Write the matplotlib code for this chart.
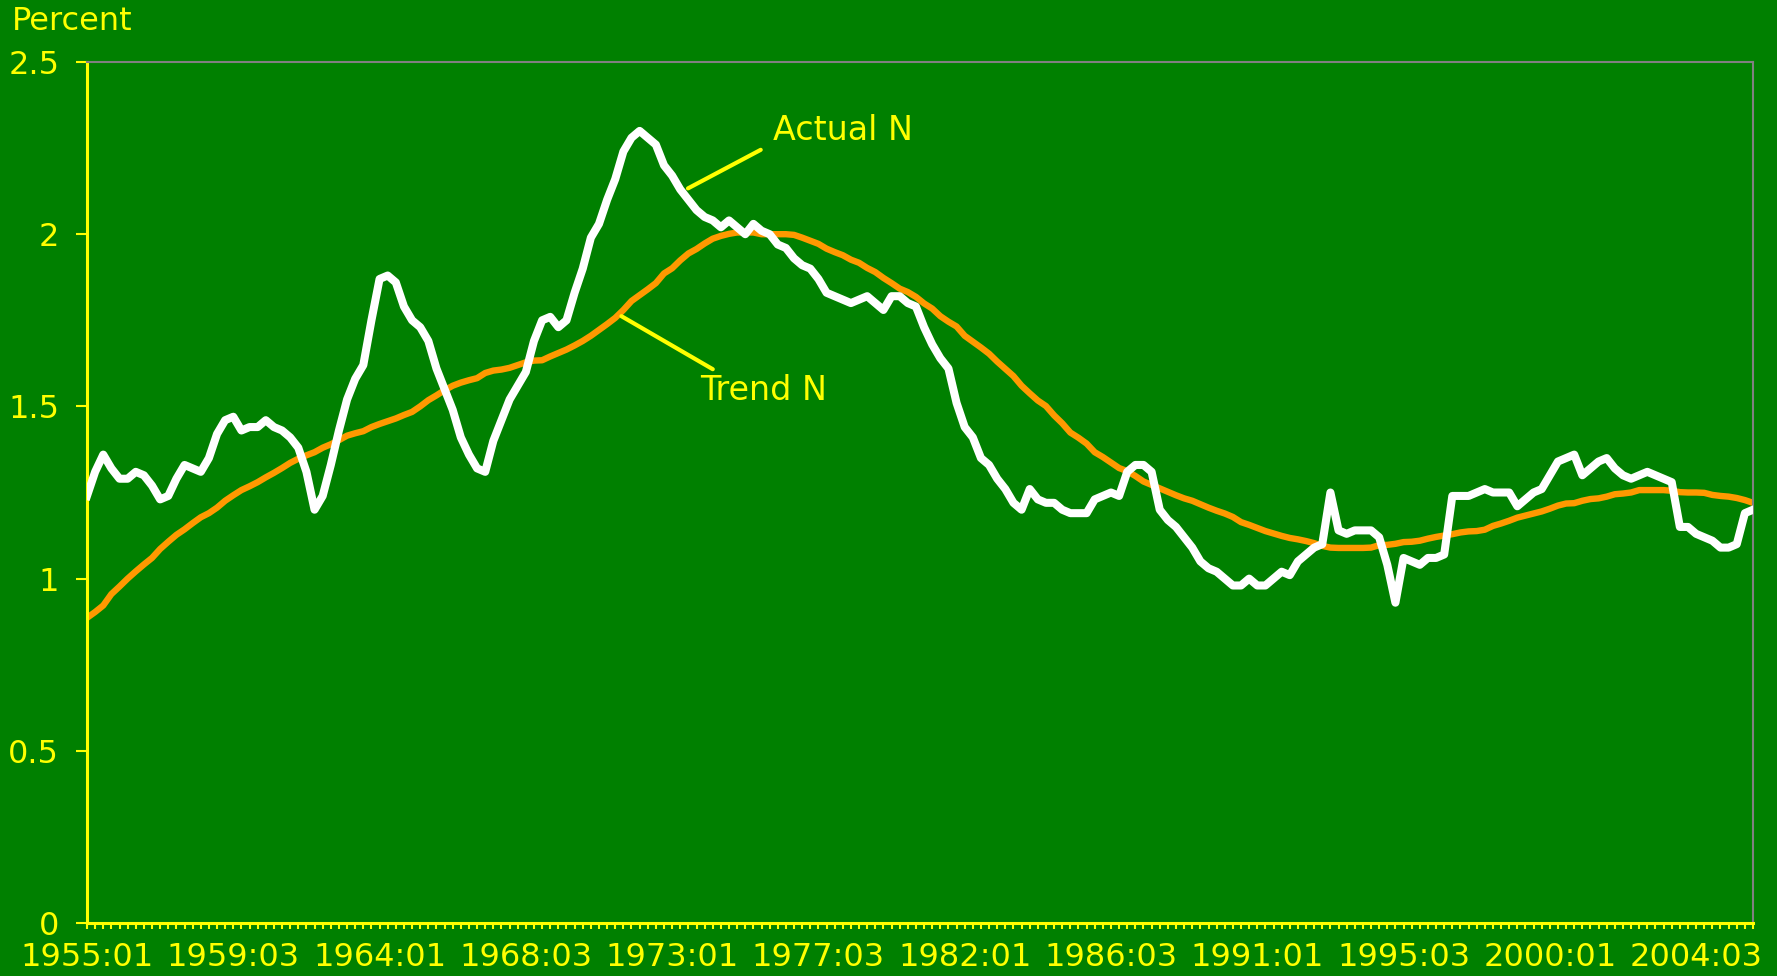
import matplotlib
matplotlib.use("Agg")
import matplotlib.pyplot as plt
import numpy as np

# quarterly series, 1955:01 .. 2006:02
actual_n = [
    1.24, 1.31, 1.36, 1.32, 1.29, 1.29, 1.31, 1.30, 1.27, 1.23,
    1.24, 1.29, 1.33, 1.32, 1.31, 1.35, 1.42, 1.46, 1.47, 1.43,
    1.44, 1.44, 1.46, 1.44, 1.43, 1.41, 1.38, 1.31, 1.20, 1.24,
    1.33, 1.43, 1.52, 1.58, 1.62, 1.75, 1.87, 1.88, 1.86, 1.79,
    1.75, 1.73, 1.69, 1.61, 1.55, 1.49, 1.41, 1.36, 1.32, 1.31,
    1.40, 1.46, 1.52, 1.56, 1.60, 1.69, 1.75, 1.76, 1.73, 1.75,
    1.83, 1.90, 1.99, 2.03, 2.10, 2.16, 2.24, 2.28, 2.30, 2.28,
    2.26, 2.20, 2.17, 2.13, 2.10, 2.07, 2.05, 2.04, 2.02, 2.04,
    2.02, 2.00, 2.03, 2.01, 2.00, 1.97, 1.96, 1.93, 1.91, 1.90,
    1.87, 1.83, 1.82, 1.81, 1.80, 1.81, 1.82, 1.80, 1.78, 1.82,
    1.82, 1.80, 1.79, 1.73, 1.68, 1.64, 1.61, 1.51, 1.44, 1.41,
    1.35, 1.33, 1.29, 1.26, 1.22, 1.20, 1.26, 1.23, 1.22, 1.22,
    1.20, 1.19, 1.19, 1.19, 1.23, 1.24, 1.25, 1.24, 1.31, 1.33,
    1.33, 1.31, 1.20, 1.17, 1.15, 1.12, 1.09, 1.05, 1.03, 1.02,
    1.00, 0.98, 0.98, 1.00, 0.98, 0.98, 1.00, 1.02, 1.01, 1.05,
    1.07, 1.09, 1.10, 1.25, 1.14, 1.13, 1.14, 1.14, 1.14, 1.12,
    1.04, 0.93, 1.06, 1.05, 1.04, 1.06, 1.06, 1.07, 1.24, 1.24,
    1.24, 1.25, 1.26, 1.25, 1.25, 1.25, 1.21, 1.23, 1.25, 1.26,
    1.30, 1.34, 1.35, 1.36, 1.30, 1.32, 1.34, 1.35, 1.32, 1.30,
    1.29, 1.30, 1.31, 1.30, 1.29, 1.28, 1.15, 1.15, 1.13, 1.12,
    1.11, 1.09, 1.09, 1.10, 1.19, 1.20,
]

trend_n = [
    0.886, 0.903, 0.922, 0.955, 0.977, 1.000, 1.021, 1.041, 1.060, 1.086,
    1.107, 1.127, 1.143, 1.161, 1.178, 1.190, 1.206, 1.226, 1.242, 1.257,
    1.268, 1.280, 1.294, 1.307, 1.321, 1.336, 1.348, 1.358, 1.367, 1.380,
    1.390, 1.402, 1.415, 1.422, 1.428, 1.440, 1.449, 1.457, 1.465, 1.475,
    1.484, 1.500, 1.518, 1.532, 1.547, 1.560, 1.569, 1.576, 1.582, 1.597,
    1.604, 1.607, 1.612, 1.620, 1.628, 1.633, 1.634, 1.645, 1.655, 1.665,
    1.677, 1.690, 1.705, 1.722, 1.739, 1.757, 1.780, 1.806, 1.823, 1.840,
    1.858, 1.886, 1.901, 1.924, 1.944, 1.957, 1.973, 1.987, 1.995, 2.001,
    2.005, 2.005, 2.005, 2.000, 2.000, 2.000, 2.000, 1.998, 1.990, 1.981,
    1.972, 1.958, 1.948, 1.939, 1.926, 1.917, 1.902, 1.890, 1.873, 1.858,
    1.842, 1.832, 1.818, 1.799, 1.784, 1.762, 1.746, 1.732, 1.705, 1.688,
    1.671, 1.653, 1.630, 1.609, 1.588, 1.560, 1.538, 1.517, 1.501, 1.474,
    1.451, 1.424, 1.409, 1.392, 1.367, 1.353, 1.337, 1.321, 1.312, 1.298,
    1.282, 1.272, 1.262, 1.252, 1.242, 1.233, 1.226, 1.216, 1.206, 1.197,
    1.189, 1.179, 1.164, 1.156, 1.147, 1.138, 1.131, 1.124, 1.118, 1.114,
    1.109, 1.103, 1.095, 1.090, 1.089, 1.089, 1.089, 1.089, 1.090, 1.097,
    1.098, 1.101, 1.106, 1.107, 1.110, 1.116, 1.121, 1.125, 1.129, 1.134,
    1.137, 1.138, 1.142, 1.153, 1.160, 1.168, 1.177, 1.183, 1.189, 1.195,
    1.203, 1.212, 1.218, 1.219, 1.226, 1.231, 1.233, 1.238, 1.245, 1.247,
    1.250, 1.257, 1.257, 1.257, 1.257, 1.255, 1.251, 1.250, 1.250, 1.249,
    1.243, 1.240, 1.238, 1.234, 1.228, 1.220,
]

tick_labels = ["1955:01", "1959:03", "1964:01", "1968:03", "1973:01", "1977:03",
               "1982:01", "1986:03", "1991:01", "1995:03", "2000:01", "2004:03"]
label_step = 18

green = "#008000"
yellow = "#FFFF00"
orange = "#FF9900"

plt.rcParams['font.family'] = ['DejaVu Sans']

fig = plt.figure(figsize=(17.77, 9.76), dpi=100, facecolor=green)
ax = fig.add_axes([87/1777, 1-923/976, (1753-87)/1777, (923-62)/976])
ax.set_facecolor(green)

x = np.arange(len(actual_n))
ax.plot(x, trend_n, color=orange, lw=4.6, solid_joinstyle='round', zorder=2)
ax.plot(x, actual_n, color='white', lw=5.8, solid_joinstyle='round', zorder=3)

ax.set_xlim(0, len(actual_n) - 1)
ax.set_ylim(0, 2.5)

ax.set_yticks([0, 0.5, 1, 1.5, 2, 2.5])
ax.set_yticklabels(["0", "0.5", "1", "1.5", "2", "2.5"])
ax.set_xticks(np.arange(0, len(actual_n), label_step))
ax.set_xticklabels(tick_labels)
ax.set_xticks(x, minor=True)

ax.tick_params(axis='y', colors=yellow, labelcolor=yellow, labelsize=23,
               length=8, width=1.5, pad=12, direction='out')
ax.tick_params(axis='x', which='both', colors=yellow, labelcolor=yellow,
               labelsize=23, length=4.5, width=1.5, pad=9, direction='out')

for side in ['left', 'bottom']:
    ax.spines[side].set_color(yellow)
    ax.spines[side].set_linewidth(2.2)
for side in ['top', 'right']:
    ax.spines[side].set_color('#808080')
    ax.spines[side].set_linewidth(1.5)

# labels with leader lines
ax.annotate("", xy=(73.95, 2.133), xytext=(82.9, 2.245),
            arrowprops=dict(arrowstyle='-', color=yellow, lw=3, shrinkA=0, shrinkB=0))
ax.text(84.4, 2.302, "Actual N", color=yellow, fontsize=24, va='center', ha='left')
ax.annotate("", xy=(65.76, 1.762), xytext=(77.0, 1.608),
            arrowprops=dict(arrowstyle='-', color=yellow, lw=3, shrinkA=0, shrinkB=0))
ax.text(75.4, 1.547, "Trend N", color=yellow, fontsize=24, va='center', ha='left')

fig.text(12/1777, 1-21/976, "Percent", color=yellow, fontsize=23, va='center', ha='left')

fig.savefig("out.png", dpi=100, facecolor=green)
